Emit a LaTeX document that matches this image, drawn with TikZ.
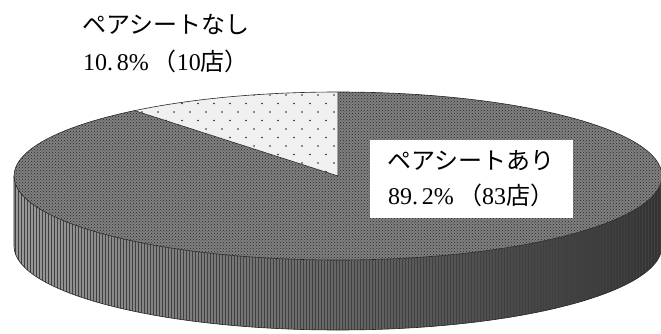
\documentclass[tikz,border=0pt]{standalone}
\usepackage{fontspec}
\setmainfont{Liberation Serif}
\newfontfamily\cjk{Noto Sans CJK JP}
\usetikzlibrary{patterns}

\begin{document}
\begin{tikzpicture}[x=1pt,y=-1pt,
  toplabel/.style={align=center,font=\fontsize{24}{37}\selectfont,inner sep=0pt},
  boxlabel/.style={fill=white,align=center,font=\fontsize{24}{35}\selectfont,
    minimum width=203pt,minimum height=78pt,inner sep=0pt},
  rim/.style={draw=black!85,line width=0.6pt},
  sidefill/.style={left color=black!40,right color=black!80,
    postaction={pattern=vertical lines,pattern color=black!75}},
  arifill/.style={fill=black!50,postaction={pattern=crosshatch dots,pattern color=black!85}},
  nashifill/.style={fill=black!6}]
\useasboundingbox (0,0) rectangle (661,334);
\def\cx{338}\def\cy{176}\def\rx{324}\def\ry{84}\def\dep{70}
\coordinate (c) at (\cx,\cy);
% side of the pie
\path[sidefill] (c) ++(0:{\rx} and {\ry}) arc[start angle=0,end angle=180,x radius=\rx,y radius=\ry]
  -- ++(0,\dep) arc[start angle=180,end angle=0,x radius=\rx,y radius=\ry] -- cycle;
% slice: ari
\path[arifill] (c) -- ++(270:{\rx} and {\ry})
  arc[start angle=270,end angle=591.12,x radius=\rx,y radius=\ry] -- cycle;
% slice: nashi
\path[nashifill] (c) -- ++(231.12:{\rx} and {\ry})
  arc[start angle=231.12,end angle=270,x radius=\rx,y radius=\ry] -- cycle;
\begin{scope}
  \clip (c) -- ++(231.12:{\rx} and {\ry})
    arc[start angle=231.12,end angle=270,x radius=\rx,y radius=\ry] -- cycle;
  \foreach \i in {0,...,14}
    \foreach \j in {0,...,10}
      \fill[gray!30!black] ({126+16*\i+8*mod(\j,2)},{95+8.5*\j}) circle[radius=0.9];
\end{scope}
% outlines
\draw[rim] (c) ellipse[x radius=\rx,y radius=\ry];
\draw[rim] (c) ++(0:{\rx} and {\ry}) -- ++(0,\dep)
  arc[start angle=0,end angle=180,x radius=\rx,y radius=\ry] -- ++(0,-\dep);
\draw[rim] (c) ++(231.12:{\rx} and {\ry}) -- (c) -- ++(270:{\rx} and {\ry});
% labels
\node[toplabel] (nashi) at (166,44) {{\cjk ペアシートなし}\\10.\,8\%\,{\cjk （}10{\cjk 店）}};
\node[boxlabel] (ari) at (471,179) {{\cjk ペアシートあり}\\89.\,2\%\,{\cjk （}83{\cjk 店）}};
\end{tikzpicture}
\end{document}
